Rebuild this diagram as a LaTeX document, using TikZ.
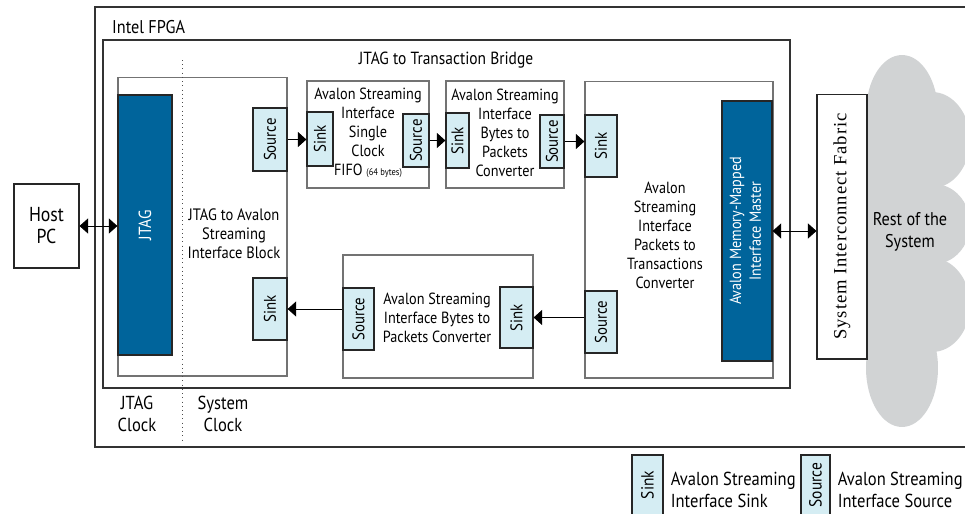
\documentclass[tikz,border=0pt]{standalone}
\usepackage{fontspec}
\setmainfont{PT Sans}[FakeStretch=0.88]
\newfontfamily\fabricfont{Liberation Serif}[LetterSpace=5]
\usepackage{xcolor}
\usepackage{tikz}
\usetikzlibrary{arrows.meta, positioning}
\definecolor{portblue}{HTML}{D5EDF3}
\definecolor{jtagblue}{HTML}{00649B}
\definecolor{cloudgray}{HTML}{D1D3D4}
\tikzstyle{arrow} = [line width=0.5pt, -{Triangle[length=1.7mm, width=3mm]}]
\tikzstyle{biarrow} = [line width=0.5pt, {Triangle[length=1.7mm, width=3mm]}-{Triangle[length=1.7mm, width=3mm]}]
\tikzstyle{frame} = [rectangle, draw=black!80, line width=0.8pt, inner sep=0pt]
\tikzstyle{block} = [rectangle, draw=black!55, fill=white, inner sep=0pt, line width=0.6pt]
\tikzstyle{port} = [rectangle, draw=black!85, fill=portblue, inner sep=0pt, line width=0.7pt, font=\fontsize{9.6}{11}\selectfont]
\tikzstyle{darkblock} = [rectangle, draw=black!85, fill=jtagblue, text=white, inner sep=0pt, line width=0.7pt]
\tikzstyle{txt} = [align=center, font=\fontsize{9.2}{10.8}\selectfont]
\tikzstyle{bigtxt} = [align=center, font=\fontsize{10.7}{12.3}\selectfont]
\newcommand{\vtext}[1]{\rotatebox{90}{#1}}

\begin{document}
\begin{tikzpicture}[x=0.02cm, y=-0.02cm]
    \useasboundingbox (0,0) rectangle (965,514);
    % Frames
    \node (fpga) [frame, minimum width=17.46cm, minimum height=8.8cm] at (531.5,227) {};
    \node (fpgalabel) [anchor=west, font=\fontsize{10.5}{12}\selectfont] at (106,27) {Intel FPGA};
    \node (bridge) [frame, line width=1pt, minimum width=13.74cm, minimum height=6.96cm] at (446.5,214) {};
    \node (bridgelabel) [font=\fontsize{10}{12}\selectfont] at (446,60) {JTAG to Transaction Bridge};

    % Cloud
    \fill [cloudgray] (867,100) rectangle (935,380);
    \fill [cloudgray] (902,113) ellipse [x radius=0.72cm, y radius=1.16cm];
    \fill [cloudgray] (932,140) ellipse [x radius=0.76cm, y radius=0.96cm];
    \fill [cloudgray] (934,224) ellipse [x radius=0.72cm, y radius=0.8cm];
    \fill [cloudgray] (932,305) ellipse [x radius=0.76cm, y radius=0.94cm];
    \fill [cloudgray] (902,368) ellipse [x radius=0.72cm, y radius=1.18cm];
    \node (rest) [bigtxt, font=\fontsize{10.5}{12.8}\selectfont] at (910,232) {Rest of the\\System};

    % Nodes
    \node (host) [rectangle, draw=black!85, line width=0.6pt, minimum width=1.3cm, minimum height=1.68cm, font=\fontsize{11.5}{12.5}\selectfont, align=center] at (46.5,226) {Host\\PC};
    \node (j2a) [block, minimum width=3.38cm, minimum height=5.98cm] at (202.5,226.5) {};
    \node (jtag) [darkblock, minimum width=1.08cm, minimum height=5.2cm, font=\fontsize{10}{12}\selectfont] at (145,225) {\vtext{JTAG}};
    \node (j2alabel) [txt, font=\fontsize{9.4}{10.9}\selectfont] at (234,234) {JTAG to Avalon\\Streaming\\Interface Block};
    \node (j2asrc) [port, minimum width=0.68cm, minimum height=1.26cm] at (270,139.5) {\vtext{Source}};
    \node (j2asnk) [port, minimum width=0.68cm, minimum height=1.24cm] at (270,309) {\vtext{Sink}};

    \node (fifo) [block, minimum width=2.44cm, minimum height=2.14cm] at (368,134.5) {};
    \node (fifolabel) [txt] at (368,133) {Avalon Streaming\\Interface\\Single\\Clock\\FIFO {\fontsize{5.5}{6}\selectfont (64 bytes)}};
    \node (fifosnk) [port, minimum width=0.52cm, minimum height=1.08cm] at (320,139) {\vtext{Sink}};
    \node (fifosrc) [port, minimum width=0.52cm, minimum height=1.06cm] at (416,140.5) {\vtext{Source}};

    \node (bpup) [block, minimum width=2.36cm, minimum height=2.14cm] at (505,134.5) {};
    \node (bpuplabel) [txt] at (505,133) {Avalon Streaming\\Interface\\Bytes to\\Packets\\Converter};
    \node (bpupsnk) [port, minimum width=0.46cm, minimum height=1.1cm] at (457.5,140.5) {\vtext{Sink}};
    \node (bpupsrc) [port, minimum width=0.48cm, minimum height=1.06cm] at (552,141.5) {\vtext{Source}};

    \node (p2t) [block, minimum width=3.76cm, minimum height=5.94cm] at (679,229.5) {};
    \node (p2tlabel) [txt] at (665,235) {Avalon\\Streaming\\Interface\\Packets to\\Transactions\\Converter};
    \node (p2tsnk) [port, minimum width=0.64cm, minimum height=1.24cm] at (601,146) {\vtext{Sink}};
    \node (p2tsrc) [port, minimum width=0.64cm, minimum height=1.24cm] at (601,322) {\vtext{Source}};
    \node (master) [darkblock, minimum width=1cm, minimum height=5.2cm, font=\fontsize{9.2}{11.3}\selectfont] at (747,231) {\vtext{\begin{tabular}{@{}c@{}}Avalon Memory-Mapped\\Interface Master\end{tabular}}};

    \node (bpdn) [block, minimum width=3.8cm, minimum height=2.46cm] at (438,316.5) {};
    \node (bpdnlabel) [txt] at (437,318) {Avalon Streaming\\Interface Bytes to\\Packets Converter};
    \node (bpdnsrc) [port, minimum width=0.62cm, minimum height=1.24cm] at (358.5,319) {\vtext{Source}};
    \node (bpdnsnk) [port, minimum width=0.66cm, minimum height=1.22cm] at (516.5,317.5) {\vtext{Sink}};

    \node (fabric) [rectangle, draw=black!85, fill=white, line width=0.6pt, minimum width=1cm, minimum height=5.3cm, font=\fabricfont\fontsize{10.6}{12}\selectfont] at (842,226.5) {\vtext{System Interconnect Fabric}};

    % Clock domains
    \coordinate (clktop) at (182,60);
    \coordinate (clkbot) at (182,440);
    \draw [dotted, black!70] (clktop) -- (clkbot);
    \node (jtagclk) [bigtxt] at (137,414) {JTAG\\Clock};
    \node (sysclk) [bigtxt] at (223,414) {System\\Clock};

    % Legend
    \node (lgsnk) [port, minimum width=0.62cm, minimum height=1.2cm, font=\fontsize{10}{12}\selectfont] at (647.5,485) {\vtext{Sink}};
    \node (lgsnktxt) [bigtxt, align=left, anchor=west, right=0.2mm of lgsnk, yshift=-0.1cm] {Avalon Streaming\\Interface Sink};
    \node (lgsrc) [port, minimum width=0.58cm, minimum height=1.2cm, font=\fontsize{10}{12}\selectfont] at (815.5,485) {\vtext{Source}};
    \node (lgsrctxt) [bigtxt, align=left, anchor=west, right=0.2mm of lgsrc, yshift=-0.1cm] {Avalon Streaming\\Interface Source};

    % Arrows
    \draw [biarrow] (host.east) -- (host.east -| jtag.west);
    \draw [arrow] (j2asrc.east) -- (j2asrc.east -| fifosnk.west);
    \draw [arrow] (fifosrc.east) -- (fifosrc.east -| bpupsnk.west);
    \draw [arrow] (bpupsrc.east) -- (bpupsrc.east -| p2tsnk.west);
    \draw [arrow] (p2tsrc.west |- bpdnsnk.east) -- (bpdnsnk.east);
    \draw [arrow] (bpdnsrc.west |- j2asnk.east) -- (j2asnk.east);
    \draw [biarrow] (master.east) -- (master.east -| fabric.west);
\end{tikzpicture}
\end{document}
